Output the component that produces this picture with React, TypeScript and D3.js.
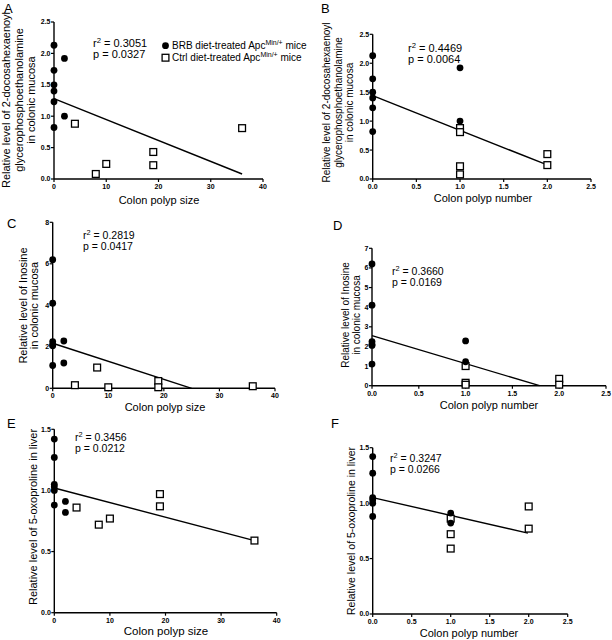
import * as d3 from "d3";

// ---- data ----
// polyp size (A, C, E) and polyp number (B, D, F) per mouse
const brbSize = [0, 0, 0, 0, 0, 0, 2, 2];
const ctrlSize = [4, 8, 10, 19, 19, 36];
const brbNumber = [0, 0, 0, 0, 0, 0, 1, 1];

// A / B: 2-docosahexaenoyl glycerophosphoethanolamine
const brbDha = [2.13, 1.73, 1.5, 1.4, 1.23, 0.82, 1.92, 1.0];
const ctrlDhaSize = [0.88, 0.08, 0.24, 0.43, 0.22, 0.81];
const ctrlNumB = [1, 1, 1, 1, 2, 2];
const ctrlDhaNum = [0.88, 0.81, 0.22, 0.08, 0.43, 0.24];

// C / D: inosine
const brbIno = [6.2, 4.1, 2.25, 2.05, 1.1, 2.1, 2.28, 1.22];
const brbInoX = [0, 0, 0, 0, 0, 0, 2, 2];
const ctrlInoSize = [0.15, 1.0, 0.05, 0.35, 0.05, 0.1];
const ctrlNumD = [1, 1, 1, 2, 2];
const ctrlInoNum = [1.0, 0.15, 0.05, 0.35, 0.05];

// E / F: 5-oxoproline
const brbOxo = [1.42, 1.27, 1.05, 1.03, 1.0, 0.88, 0.91, 0.82];
const ctrlOxoSize = [0.86, 0.72, 0.77, 0.97, 0.87, 0.59];
const ctrlNumF = [1, 1, 1, 2, 2];
const ctrlOxoNum = [0.86, 0.72, 0.59, 0.97, 0.77];

// fitted lines [x0, y0, x1, y1]
const fitA = [0, 1.28, 36, 0.08];
const fitB = [0, 1.44, 1.97, 0.26];
const fitC = [0, 2.17, 25, 0];
const fitD = [0, 2.55, 1.79, 0];
const fitE = [0, 1.02, 36, 0.59];
const fitF = [0, 1.05, 1.99, 0.73];

const stats = [
  ["0.3051", "0.0327"],
  ["0.4469", "0.0064"],
  ["0.2819", "0.0417"],
  ["0.3660", "0.0169"],
  ["0.3456", "0.0212"],
  ["0.3247", "0.0266"],
];

const sizeTicks = [0, 10, 20, 30, 40];
const numTicks = [0, 0.5, 1, 1.5, 2, 2.5];
const dhaTicks = [0, 0.5, 1, 1.5, 2, 2.5];
const inoTicksC = [0, 2, 4, 6, 8];
const inoTicksD = [0, 1, 2, 3, 4, 5, 6, 7];
const oxoTicks = [0, 0.5, 1, 1.5];

const FONT = "'Liberation Sans', Arial, sans-serif";

type PanelProps = {
  letter: string;
  lx: number;
  ly: number;
  box: [number, number, number, number]; // left, right, bottom, top
  xDomain: [number, number];
  yDomain: [number, number];
  xTicks: number[];
  yTicks: number[];
  xFmt: string;
  yFmt: string;
  bx: number[];
  by: number[];
  cx: number[];
  cy: number[];
  fit: number[];
  stat: string[];
  statPos: [number, number];
  statSize: number;
  xLabel: string;
  xLabelPos: [number, number];
  xLabelSize: number;
  yLines: string[];
  yLineX: number[];
  yCenter: number;
  yLabelSize: number;
};

function Panel(p: PanelProps) {
  const [l, r, b, t] = p.box;
  const x = d3.scaleLinear().domain(p.xDomain).range([l, r]);
  const y = d3.scaleLinear().domain(p.yDomain).range([b, t]);
  const xf = d3.format(p.xFmt);
  const yf = d3.format(p.yFmt);
  const line = d3
    .line<number[]>()
    .x((d) => x(d[0]))
    .y((d) => y(d[1]));
  const fitPts = [
    [p.fit[0], p.fit[1]],
    [p.fit[2], p.fit[3]],
  ];
  return (
    <g fontFamily={FONT}>
      <text x={p.lx} y={p.ly} fontSize={13}>
        {p.letter}
      </text>
      {/* axes */}
      <line x1={l} x2={r} y1={b} y2={b} stroke="#000" strokeWidth={1.4} />
      <line x1={l} x2={l} y1={b} y2={t} stroke="#000" strokeWidth={1.4} />
      {p.xTicks.map((v) => (
        <g key={"x" + v}>
          <line x1={x(v)} x2={x(v)} y1={b} y2={b + 3} stroke="#000" strokeWidth={1.2} />
          <text x={x(v)} y={b + 10} fontSize={7} fontWeight="bold" textAnchor="middle">
            {xf(v)}
          </text>
        </g>
      ))}
      {p.yTicks.map((v) => (
        <g key={"y" + v}>
          <line x1={l - 3} x2={l} y1={y(v)} y2={y(v)} stroke="#000" strokeWidth={1.2} />
          <text x={l - 3.5} y={y(v)} dy="0.35em" fontSize={7} fontWeight="bold" textAnchor="end">
            {yf(v)}
          </text>
        </g>
      ))}
      {/* fit line */}
      <path d={line(fitPts) ?? ""} fill="none" stroke="#000" strokeWidth={1.4} />
      {/* ctrl squares */}
      {p.cx.map((v, i) => (
        <rect
          key={"c" + i}
          x={x(v) - 3.4}
          y={y(p.cy[i]) - 3.4}
          width={6.8}
          height={6.8}
          fill="#fff"
          stroke="#000"
          strokeWidth={1.3}
        />
      ))}
      {/* BRB circles */}
      {p.bx.map((v, i) => (
        <circle key={"b" + i} cx={x(v)} cy={y(p.by[i])} r={3.4} fill="#000" />
      ))}
      {/* stats */}
      <text x={p.statPos[0]} y={p.statPos[1]} fontSize={p.statSize}>
        r<tspan dy={-4} fontSize={p.statSize * 0.7}>2</tspan>
        <tspan dy={4}>{" = " + p.stat[0]}</tspan>
      </text>
      <text x={p.statPos[0]} y={p.statPos[1] + 11} fontSize={p.statSize}>
        {"p = " + p.stat[1]}
      </text>
      <text
        x={p.xLabelPos[0]}
        y={p.xLabelPos[1]}
        fontSize={p.xLabelSize}
        textAnchor="middle"
      >
        {p.xLabel}
      </text>
      {p.yLines.map((s, i) => (
        <text
          key={"yl" + i}
          transform={`translate(${p.yLineX[i]},${p.yCenter}) rotate(-90)`}
          dy="0.35em"
          fontSize={p.yLabelSize}
          textAnchor="middle"
        >
          {s}
        </text>
      ))}
    </g>
  );
}

const dhaLines = [
  "Relative level of 2-docosahexaenoyl",
  "glycerophosphoethanolamine",
  "in colonic mucosa",
];
const inoLines = ["Relative level of Inosine", "in colonic mucosa"];
const oxoLines = ["Relative level of 5-oxoproline in liver"];

export default function App() {
  return (
    <svg
      width={612}
      height={640}
      style={{ position: "absolute", left: 0, top: 0, background: "#fff" }}
    >
      <Panel
        letter="A" lx={4} ly={13}
        box={[54, 263, 179, 22]} xDomain={[0, 40]} yDomain={[0, 2.5]}
        xTicks={sizeTicks} yTicks={dhaTicks} xFmt="d" yFmt=".1f"
        bx={brbSize} by={brbDha} cx={ctrlSize} cy={ctrlDhaSize} fit={fitA}
        stat={stats[0]} statPos={[93, 47]} statSize={11}
        xLabel="Colon polyp size" xLabelPos={[159, 204]} xLabelSize={11}
        yLines={dhaLines} yLineX={[6, 19, 31]} yCenter={100} yLabelSize={11}
      />
      <Panel
        letter="B" lx={321} ly={13}
        box={[372.7, 591, 179, 34.3]} xDomain={[0, 2.5]} yDomain={[0, 2.5]}
        xTicks={numTicks} yTicks={dhaTicks} xFmt=".1f" yFmt=".1f"
        bx={brbNumber} by={brbDha} cx={ctrlNumB} cy={ctrlDhaNum} fit={fitB}
        stat={stats[1]} statPos={[408, 52]} statSize={11}
        xLabel="Colon polyp number" xLabelPos={[483, 202]} xLabelSize={11}
        yLines={dhaLines} yLineX={[326, 338, 349]} yCenter={102.5} yLabelSize={10}
      />
      <Panel
        letter="C" lx={7} ly={228}
        box={[52.7, 275, 388.3, 222.3]} xDomain={[0, 40]} yDomain={[0, 8]}
        xTicks={sizeTicks} yTicks={inoTicksC} xFmt="d" yFmt="d"
        bx={brbInoX} by={brbIno} cx={ctrlSize} cy={ctrlInoSize} fit={fitC}
        stat={stats[2]} statPos={[83, 239]} statSize={10.5}
        xLabel="Colon polyp size" xLabelPos={[165, 411]} xLabelSize={11}
        yLines={inoLines} yLineX={[23, 34]} yCenter={305.5} yLabelSize={11}
      />
      <Panel
        letter="D" lx={333} ly={230}
        box={[372, 606, 385.7, 248.3]} xDomain={[0, 2.5]} yDomain={[0, 7]}
        xTicks={numTicks} yTicks={inoTicksD} xFmt=".1f" yFmt="d"
        bx={brbNumber} by={brbIno} cx={ctrlNumD} cy={ctrlInoNum} fit={fitD}
        stat={stats[3]} statPos={[392, 274.5]} statSize={10.5}
        xLabel="Colon polyp number" xLabelPos={[489, 409]} xLabelSize={11}
        yLines={inoLines} yLineX={[345, 356]} yCenter={315} yLabelSize={10}
      />
      <Panel
        letter="E" lx={7} ly={428}
        box={[54.3, 276.7, 612.7, 429.3]} xDomain={[0, 40]} yDomain={[0, 1.5]}
        xTicks={sizeTicks} yTicks={oxoTicks} xFmt="d" yFmt=".1f"
        bx={brbSize} by={brbOxo} cx={ctrlSize} cy={ctrlOxoSize} fit={fitE}
        stat={stats[4]} statPos={[75, 440.5]} statSize={10.5}
        xLabel="Colon polyp size" xLabelPos={[166, 635]} xLabelSize={11.5}
        yLines={oxoLines} yLineX={[33]} yCenter={517} yLabelSize={11}
      />
      <Panel
        letter="F" lx={331} ly={428}
        box={[372.7, 567.7, 614, 447.7]} xDomain={[0, 2.5]} yDomain={[0, 1.5]}
        xTicks={numTicks} yTicks={oxoTicks} xFmt=".1f" yFmt=".1f"
        bx={brbNumber} by={brbOxo} cx={ctrlNumF} cy={ctrlOxoNum} fit={fitF}
        stat={stats[5]} statPos={[390, 462]} statSize={10.5}
        xLabel="Colon polyp number" xLabelPos={[469, 637]} xLabelSize={11}
        yLines={oxoLines} yLineX={[351]} yCenter={531} yLabelSize={10.5}
      />
      {/* legend (panel A) */}
      <g fontFamily={FONT} fontSize={10}>
        <circle cx={165.5} cy={45.7} r={3.4} fill="#000" />
        <text x={172} y={49.3}>
          BRB diet-treated Apc<tspan dy={-4} fontSize={7}>Min/+</tspan>
          <tspan dy={4}> mice</tspan>
        </text>
        <rect x={162.1} y={54.3} width={6.8} height={6.8} fill="#fff" stroke="#000" strokeWidth={1.3} />
        <text x={172} y={61.3}>
          Ctrl diet-treated Apc<tspan dy={-4} fontSize={7}>Min/+</tspan>
          <tspan dy={4}> mice</tspan>
        </text>
      </g>
    </svg>
  );
}
